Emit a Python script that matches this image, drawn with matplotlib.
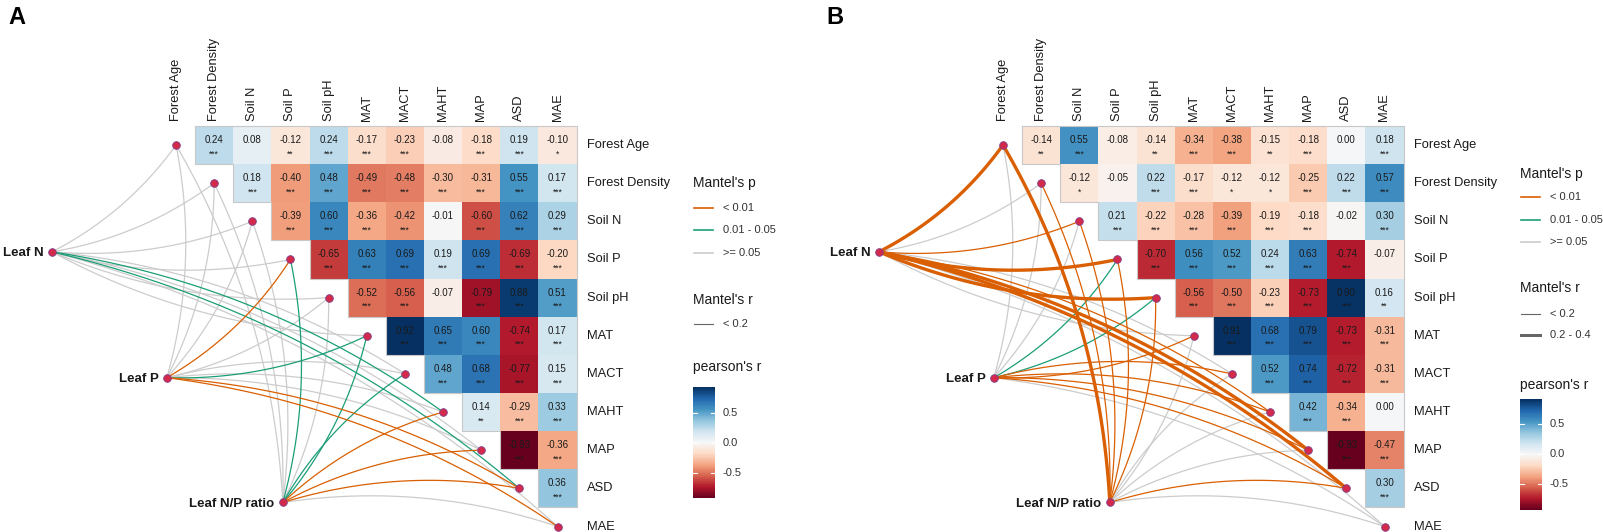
import numpy as np
import matplotlib
matplotlib.use('Agg')
import matplotlib.pyplot as plt
from matplotlib.colors import Normalize

plt.rcParams['font.family'] = ['Liberation Sans', 'DejaVu Sans']

# ---- data ----
variables = ['Forest Age', 'Forest Density', 'Soil N', 'Soil P', 'Soil pH',
             'MAT', 'MACT', 'MAHT', 'MAP', 'ASD', 'MAE']
leaves = ['Leaf N', 'Leaf P', 'Leaf N/P ratio']

# pearson's r, upper triangle: row i holds columns i+1 .. 10
r_a = [
    [0.24, 0.08, -0.12, 0.24, -0.17, -0.23, -0.08, -0.18, 0.19, -0.10],
    [0.18, -0.40, 0.48, -0.49, -0.48, -0.30, -0.31, 0.55, 0.17],
    [-0.39, 0.60, -0.36, -0.42, -0.01, -0.60, 0.62, 0.29],
    [-0.65, 0.63, 0.69, 0.19, 0.69, -0.69, -0.20],
    [-0.52, -0.56, -0.07, -0.79, 0.88, 0.51],
    [0.92, 0.65, 0.60, -0.74, 0.17],
    [0.48, 0.68, -0.77, 0.15],
    [0.14, -0.29, 0.33],
    [-0.93, -0.36],
    [0.36],
]
stars_a = [
    ['***', '', '**', '***', '***', '***', '', '***', '***', '*'],
    ['***', '***', '***', '***', '***', '***', '***', '***', '***'],
    ['***', '***', '***', '***', '', '***', '***', '***'],
    ['***', '***', '***', '***', '***', '***', '***'],
    ['***', '***', '', '***', '***', '***'],
    ['***', '***', '***', '***', '***'],
    ['***', '***', '***', '***'],
    ['**', '***', '***'],
    ['***', '***'],
    ['***'],
]
r_b = [
    [-0.14, 0.55, -0.08, -0.14, -0.34, -0.38, -0.15, -0.18, 0.00, 0.18],
    [-0.12, -0.05, 0.22, -0.17, -0.12, -0.12, -0.25, 0.22, 0.57],
    [0.21, -0.22, -0.28, -0.39, -0.19, -0.18, -0.02, 0.30],
    [-0.70, 0.56, 0.52, 0.24, 0.63, -0.74, -0.07],
    [-0.56, -0.50, -0.23, -0.73, 0.90, 0.16],
    [0.91, 0.68, 0.79, -0.73, -0.31],
    [0.52, 0.74, -0.72, -0.31],
    [0.42, -0.34, 0.00],
    [-0.93, -0.47],
    [0.30],
]
stars_b = [
    ['**', '***', '', '**', '***', '***', '**', '***', '', '***'],
    ['*', '', '***', '***', '*', '*', '***', '***', '***'],
    ['***', '***', '***', '***', '***', '***', '', '***'],
    ['***', '***', '***', '***', '***', '***', ''],
    ['***', '***', '***', '***', '***', '**'],
    ['***', '***', '***', '***', '***'],
    ['***', '***', '***', '***'],
    ['***', '***', ''],
    ['***', '***'],
    ['***'],
]

# Mantel's p class: 0 = < 0.01, 1 = 0.01 - 0.05, 2 = >= 0.05 (one row per leaf trait)
mantel_p_a = [
    [2, 2, 2, 2, 2, 2, 2, 1, 2, 1, 2],
    [2, 2, 2, 0, 2, 1, 2, 2, 2, 0, 0],
    [2, 2, 2, 1, 2, 1, 1, 0, 0, 0, 2],
]
mantel_p_b = [
    [0, 2, 0, 0, 0, 2, 2, 0, 0, 0, 2],
    [2, 2, 2, 1, 1, 0, 0, 0, 0, 0, 2],
    [0, 0, 0, 0, 0, 2, 2, 2, 2, 0, 2],
]
# Mantel's r class: 0 = < 0.2, 1 = 0.2 - 0.4
mantel_r_a = [[0] * 11, [0] * 11, [0] * 11]
mantel_r_b = [
    [1, 0, 0, 1, 1, 0, 0, 0, 1, 1, 0],
    [0, 0, 0, 0, 0, 0, 0, 0, 0, 0, 0],
    [1, 0, 0, 0, 0, 0, 0, 0, 0, 0, 0],
]

p_labels = ['< 0.01', '0.01 - 0.05', '>= 0.05']
r_labels = ['< 0.2', '0.2 - 0.4']

# ---- style / layout ----
p_colors = ['#D95F02', '#1B9E77', '#CCCCCC']
r_widths = [0.9, 2.4]
W, H = 1603, 532
UNIT = 38.15
leaf_pos = [(-3.25, 2.8), (-0.24, 6.1), (2.8, 9.37)]
txt = '#1a1a1a'

fig = plt.figure(figsize=(W / 100, H / 100), dpi=100)


def curve(p0, p1, side, k=0.12):
    p0, p1 = np.array(p0), np.array(p1)
    d = p1 - p0
    ctrl = (p0 + p1) / 2 + side * k * np.array([-d[1], d[0]])
    t = np.linspace(0, 1, 80)[:, None]
    pts = (1 - t) ** 2 * p0 + 2 * (1 - t) * t * ctrl + t ** 2 * p1
    return pts[:, 0], pts[:, 1]


def panel(ox, oy, r_rows, star_rows, mp, mr, leg, n_r_items):
    ax = fig.add_axes([0, 0, 1, 1])
    ax.set_xlim(-ox / UNIT, (W - ox) / UNIT)
    ax.set_ylim((H - oy) / UNIT, -oy / UNIT)
    ax.axis('off')
    ax.patch.set_alpha(0)
    n = len(variables)

    M = np.full((n, n), np.nan)
    for i, row in enumerate(r_rows):
        for k, v in enumerate(row):
            M[i, i + 1 + k] = v
    vmin, vmax = np.nanmin(M), np.nanmax(M)
    norm = Normalize(vmin=vmin, vmax=vmax)
    edges = np.arange(n + 1) - 0.5
    ax.pcolormesh(edges, edges, np.ma.masked_invalid(M), cmap='RdBu', norm=norm, zorder=1)

    # staircase outline
    ox_l = [0.5, n - 0.5, n - 0.5]
    oy_l = [-0.5, -0.5, n - 1.5]
    for i in range(n - 2, -1, -1):
        ox_l += [i + 0.5, i + 0.5]
        oy_l += [i + 0.5, i - 0.5]
    ax.plot(ox_l, oy_l, color='#C8C8C8', lw=0.8, zorder=2)

    for i, row in enumerate(r_rows):
        for k, v in enumerate(row):
            j = i + 1 + k
            ax.text(j, i - 0.13, f"{v:.2f}", ha='center', va='center', fontsize=7, color=txt, zorder=5)
            if star_rows[i][k]:
                ax.text(j, i + 0.3, star_rows[i][k], ha='center', va='baseline', fontsize=6.2, color=txt, zorder=5)

    for j, name in enumerate(variables):
        ax.text(j, -0.62, name, rotation=90, ha='center', va='bottom', fontsize=9.3, color=txt)
        ax.text(n - 0.5 + 0.28, j, name, ha='left', va='center', fontsize=9.3, color=txt)

    # mantel links
    links = []
    for li in range(len(leaves)):
        for t in range(n):
            links.append((mp[li][t], mr[li][t], li, t))
    links.sort(key=lambda z: (-z[0], z[1]))
    for p, r, li, t in links:
        side = 1 if t <= 5 else -1
        xs, ys = curve(leaf_pos[li], (t, t), side)
        ax.plot(xs, ys, color=p_colors[p], lw=r_widths[r], zorder=3, solid_capstyle='round')

    ax.plot(range(n), range(n), 'o', ms=5.5, mfc='#D32A4C', mec='#7E3C86', mew=0.6, zorder=4, ls='none')
    for li, name in enumerate(leaves):
        x, y = leaf_pos[li]
        ax.plot(x, y, 'o', ms=5.5, mfc='#D32A4C', mec='#7E3C86', mew=0.6, zorder=4)
        ax.text(x - 0.22, y + 0.03, name, ha='right', va='center', fontsize=9.5,
                fontweight='bold', color=txt)

    # legends
    lx = 13.55
    ax.text(lx, leg['p'], "Mantel's p", fontsize=10, va='center', ha='left', color=txt)
    for k, lab in enumerate(p_labels):
        y = leg['p_items'][k]
        ax.plot([lx + 0.03, lx + 0.53], [y, y], color=p_colors[k], lw=1.2)
        ax.text(lx + 0.8, y, lab, fontsize=8, va='center', ha='left', color='#333333')
    ax.text(lx, leg['r'], "Mantel's r", fontsize=10, va='center', ha='left', color=txt)
    for k in range(n_r_items):
        y = leg['r_items'][k]
        ax.plot([lx + 0.03, lx + 0.53], [y, y], color='#666666', lw=r_widths[k] * 0.9)
        ax.text(lx + 0.8, y, r_labels[k], fontsize=8, va='center', ha='left', color='#333333')
    ax.text(lx, leg['c'], "pearson's r", fontsize=10, va='center', ha='left', color=txt)

    # colour bar
    zero_px = oy + leg['zero'] * UNIT
    scale = 60.0
    top_px = zero_px - vmax * scale
    bot_px = zero_px - vmin * scale
    cx_px = ox + lx * UNIT
    cax = fig.add_axes([cx_px / W, 1 - bot_px / H, 22 / W, (bot_px - top_px) / H])
    vals = np.linspace(vmin, vmax, 200)
    cax.pcolormesh([0, 1], vals, vals[:-1, None], cmap='RdBu', norm=norm)
    cax.set_xlim(0, 1)
    cax.set_ylim(vmin, vmax)
    for tv in (-0.5, 0.0, 0.5):
        cax.plot([0, 0.2], [tv, tv], color='white', lw=0.8)
        cax.plot([0.8, 1], [tv, tv], color='white', lw=0.8)
        cax.text(1.35, tv, f"{tv:.1f}", transform=cax.transData, fontsize=8,
                 va='center', ha='left', color='#333333')
    cax.axis('off')


panel(176, 145, r_a, stars_a, mantel_p_a, mantel_r_a,
      dict(p=1.0, p_items=[1.65, 2.23, 2.83], r=4.06, r_items=[4.69], c=5.82, zero=7.8), 1)
panel(1003, 145, r_b, stars_b, mantel_p_b, mantel_r_b,
      dict(p=0.76, p_items=[1.36, 1.97, 2.54], r=3.75, r_items=[4.43, 4.98], c=6.29, zero=8.1), 2)

fig.text(8 / W, 1 - 6 / H, 'A', fontsize=17, fontweight='bold', va='top', ha='left')
fig.text(826 / W, 1 - 6 / H, 'B', fontsize=17, fontweight='bold', va='top', ha='left')

fig.savefig('out.png', dpi=100)
